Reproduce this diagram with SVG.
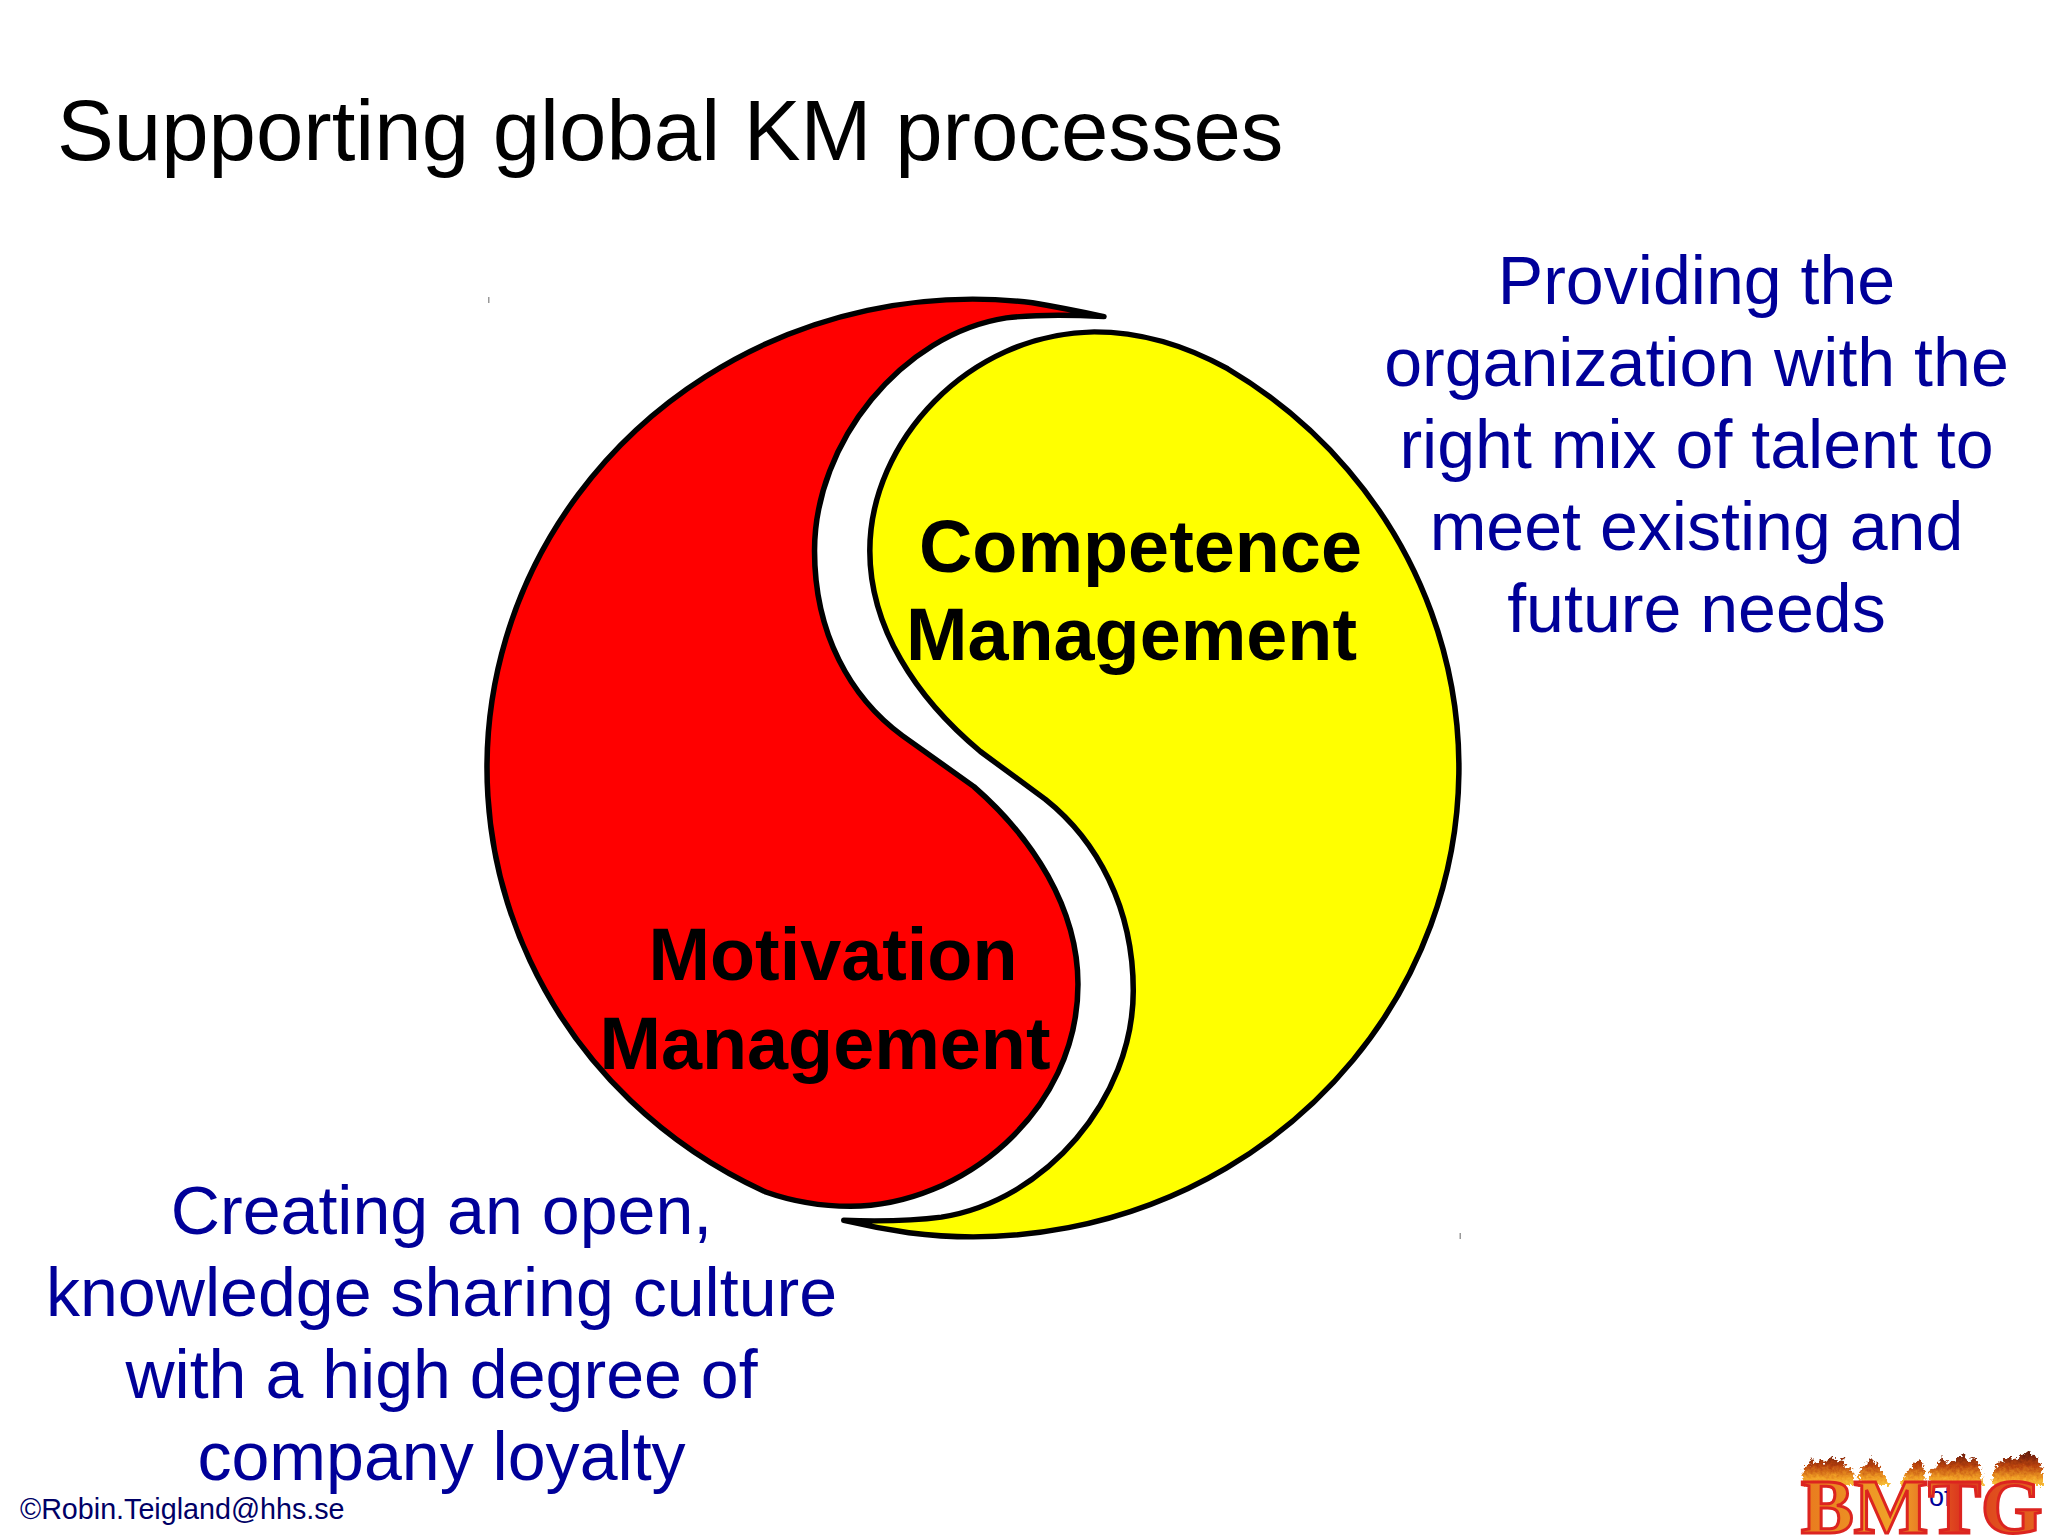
<svg xmlns="http://www.w3.org/2000/svg" width="2048" height="1536" viewBox="0 0 2048 1536">
<style>
text{font-family:"Liberation Sans",Arial,sans-serif}
.title{font-size:85.2px;fill:#000}
.note{font-size:68.1px;fill:#000099;text-anchor:middle}
.label{font-size:73.8px;font-weight:bold;fill:#000;text-anchor:middle}
.blob{stroke:#000;stroke-width:8.5;stroke-linejoin:round}
.foot{font-size:28.7px;fill:#000066}
.flame{fill:url(#flame);filter:url(#rough)}
</style>
<defs>
<linearGradient id="flame" gradientUnits="userSpaceOnUse" x1="0" y1="1452" x2="0" y2="1486">
<stop offset="0" stop-color="#5c1606"/><stop offset=".4" stop-color="#b8420e"/><stop offset=".75" stop-color="#ee9a24"/><stop offset="1" stop-color="#f9c63c"/>
</linearGradient>
<linearGradient id="fire" gradientUnits="userSpaceOnUse" x1="1800" y1="0" x2="2044" y2="0">
<stop offset="0" stop-color="#e8781e"/><stop offset=".4" stop-color="#f0a428"/><stop offset=".65" stop-color="#dc3a1e"/><stop offset="1" stop-color="#e4681e"/>
</linearGradient>
<filter id="rough" x="-10%" y="-30%" width="120%" height="140%">
<feTurbulence type="fractalNoise" baseFrequency=".3" numOctaves="2" seed="4"/>
<feDisplacementMap in="SourceGraphic" scale="9" xChannelSelector="R" yChannelSelector="G"/>
</filter>
</defs>
<rect width="2048" height="1536" fill="#fff"/>
<text class="title" x="57" y="160">Supporting global KM processes</text>
<g id="motivation">
<path class="blob" fill="#ff0000" transform="translate(460 270) scale(.6505 .6378)" d="M990 73Q930 60 880 51.300A747 735 0 0 0 470 1445.600C510 1460 555 1468 600 1468C770 1468 950 1320 950 1120C950 1000 880 890 790 810L680 730C600 670 545 570 545 440C545 270 680 100 840 75Q900 68 990 73Z"/>
<text class="label" x="833" y="980">Motivation</text>
<text class="label" x="825" y="1069">Management</text>
</g>
<g id="competence">
<path class="blob" fill="#ffff00" transform="translate(460 270) scale(.6505 .6378)" d="M590 1490Q640 1502 690 1509.400A747 735 0 0 0 1180 154.800C1115 118 1045 97 975 97C780 100 630 270 630 440C630 560 700 670 800 755L900 830C980 895 1035 1000 1035 1130C1035 1300 900 1460 740 1485Q680 1493 590 1490Z"/>
<text class="label" x="1140.500" y="572">Competence</text>
<text class="label" x="1131.500" y="660">Management</text>
</g>
<g id="note-competence">
<text class="note" x="1696.500" y="304">Providing the</text>
<text class="note" x="1696.500" y="386">organization with the</text>
<text class="note" x="1696.500" y="468">right mix of talent to</text>
<text class="note" x="1696.500" y="550">meet existing and</text>
<text class="note" x="1696.500" y="632">future needs</text>
</g>
<g id="note-motivation">
<text class="note" x="441.500" y="1234">Creating an open,</text>
<text class="note" x="441.500" y="1316">knowledge sharing culture</text>
<text class="note" x="441.500" y="1398">with a high degree of</text>
<text class="note" x="441.500" y="1480">company loyalty</text>
</g>
<g id="ticks" fill="#999">
<rect x="488" y="297" width="1.5" height="6"/>
<rect x="1459.500" y="1233" width="1.500" height="6"/>
</g>
<text class="foot" x="20" y="1519">©Robin.Teigland@hhs.se</text>
<g id="logo">
<text x="1929" y="1506" style="font-size:27px;fill:#000099">of</text>
<polygon class="flame" points="1802,1485 1803,1468 1808,1466 1811,1457 1815,1464 1820,1459 1825,1463 1832,1456 1837,1462 1843,1459 1846,1467 1853,1470 1855,1485"/>
<polygon class="flame" points="1858,1485 1860,1470 1866,1465 1870,1457 1875,1462 1882,1470 1890,1485 1900,1485 1908,1470 1914,1464 1920,1459 1924,1470 1925,1485"/>
<polygon class="flame" points="1928,1485 1930,1470 1937,1466 1942,1457 1948,1464 1955,1460 1962,1454 1968,1461 1975,1458 1980,1467 1984,1485"/>
<polygon class="flame" points="1992,1485 1994,1468 2000,1462 2008,1457 2015,1460 2022,1454 2030,1451 2036,1458 2042,1468 2044,1485"/>
<text x="1801" y="1533" style="font-family:'Liberation Serif',serif;font-size:79px;font-weight:bold;fill:url(#fire);stroke:#dc2420;stroke-width:3">BMTG</text>
</g>
</svg>
